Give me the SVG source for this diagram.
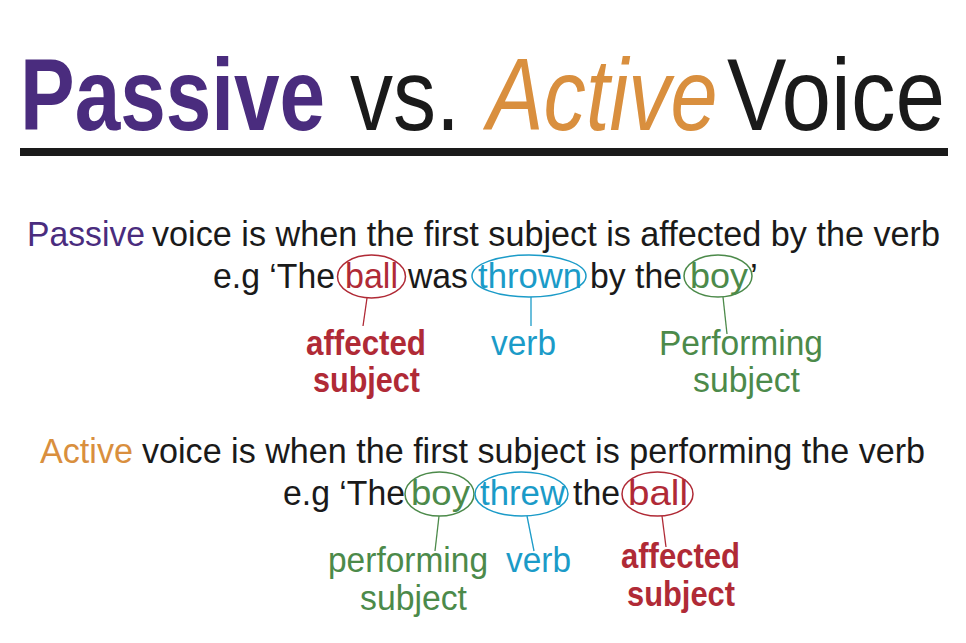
<svg xmlns="http://www.w3.org/2000/svg" width="966" height="643" viewBox="0 0 966 643">
<style>
text{font-family:"Liberation Sans",Arial,sans-serif;}
.t{font-size:102px;}
.b{font-size:35px;fill:#1a1a1a;}
.l{font-size:35px;}
.pu{fill:#4a2c7e;}
.or{fill:#d98f3e;}
.rd{fill:#b02a36;}
.bl{fill:#1b9bc8;}
.gr{fill:#4c8a4a;}
.er{fill:none;stroke:#b02a36;stroke-width:1.5;}
.eb{fill:none;stroke:#1b9bc8;stroke-width:1.5;}
.eg{fill:none;stroke:#4c8a4a;stroke-width:1.5;}
</style>
<rect width="966" height="643" fill="#fff"/>
<g id="title">
<text class="t pu" transform="translate(20,130) scale(0.803,1)" font-weight="bold" textLength="380" lengthAdjust="spacingAndGlyphs">Passive</text>
<text class="t" transform="translate(350,130) scale(0.846,1)" fill="#1a1a1a" textLength="130" lengthAdjust="spacingAndGlyphs">vs.</text>
<text class="t or" transform="translate(487,130) scale(0.83,1)" font-style="italic" textLength="278" lengthAdjust="spacingAndGlyphs">Active</text>
<text class="t" transform="translate(727,130) scale(0.855,1)" fill="#1a1a1a" textLength="255" lengthAdjust="spacingAndGlyphs">Voice</text>
<rect x="20" y="148" width="928" height="8" fill="#1a1a1a"/>
</g>
<g id="passive-def">
<text class="b pu" x="27" y="246" textLength="118" lengthAdjust="spacingAndGlyphs" style="fill:#4a2c7e">Passive</text>
<text class="b" x="152" y="246" textLength="788" lengthAdjust="spacingAndGlyphs">voice is when the first subject is affected by the verb</text>
</g>
<g id="passive-example">
<text class="b" x="213" y="288" textLength="122" lengthAdjust="spacingAndGlyphs">e.g ‘The</text>
<text class="b" x="408" y="288" textLength="60" lengthAdjust="spacingAndGlyphs">was</text>
<text class="b" x="590" y="288" textLength="92" lengthAdjust="spacingAndGlyphs">by the</text>
<text class="b" x="750" y="288">’</text>
</g>
<g id="p-ball">
<ellipse class="er" cx="371.5" cy="276.5" rx="34" ry="21.5"/>
<text class="l rd" x="345" y="288" textLength="53" lengthAdjust="spacingAndGlyphs">ball</text>
</g>
<g id="p-thrown">
<ellipse class="eb" cx="529" cy="276" rx="57" ry="21"/>
<text class="l bl" x="478" y="288" textLength="104" lengthAdjust="spacingAndGlyphs">thrown</text>
</g>
<g id="p-boy">
<ellipse class="eg" cx="718" cy="276" rx="34" ry="21"/>
<text class="l gr" x="690" y="288" textLength="58" lengthAdjust="spacingAndGlyphs">boy</text>
</g>
<g id="p-affected">
<text class="l rd" x="306" y="355" font-weight="bold" textLength="120" lengthAdjust="spacingAndGlyphs">affected</text>
<text class="l rd" x="313" y="392" font-weight="bold" textLength="107" lengthAdjust="spacingAndGlyphs">subject</text>
</g>
<g id="p-verb">
<text class="l bl" x="491" y="355" textLength="65" lengthAdjust="spacingAndGlyphs">verb</text>
</g>
<g id="p-performing">
<text class="l gr" x="659" y="355" textLength="164" lengthAdjust="spacingAndGlyphs">Performing</text>
<text class="l gr" x="693" y="392" textLength="107" lengthAdjust="spacingAndGlyphs">subject</text>
</g>
<g id="active-def">
<text class="b or" x="40" y="463" textLength="93" lengthAdjust="spacingAndGlyphs" style="fill:#d98f3e">Active</text>
<text class="b" x="142" y="463" textLength="783" lengthAdjust="spacingAndGlyphs">voice is when the first subject is performing the verb</text>
</g>
<g id="active-example">
<text class="b" x="283" y="505" textLength="122" lengthAdjust="spacingAndGlyphs">e.g ‘The</text>
<text class="b" x="573" y="505" textLength="47" lengthAdjust="spacingAndGlyphs">the</text>
</g>
<g id="a-boy">
<ellipse class="eg" cx="439.5" cy="494" rx="34.5" ry="22"/>
<text class="l gr" x="411" y="505" textLength="59" lengthAdjust="spacingAndGlyphs">boy</text>
</g>
<g id="a-threw">
<ellipse class="eb" cx="521.5" cy="494" rx="46.5" ry="22"/>
<text class="l bl" x="480" y="505" textLength="85" lengthAdjust="spacingAndGlyphs">threw</text>
</g>
<g id="a-ball">
<ellipse class="er" cx="657.5" cy="494" rx="35.5" ry="22"/>
<text class="l rd" x="628" y="505" textLength="60" lengthAdjust="spacingAndGlyphs">ball</text>
</g>
<g id="a-performing">
<text class="l gr" x="328" y="572" textLength="160" lengthAdjust="spacingAndGlyphs">performing</text>
<text class="l gr" x="360" y="610" textLength="107" lengthAdjust="spacingAndGlyphs">subject</text>
</g>
<g id="a-verb">
<text class="l bl" x="506" y="572" textLength="65" lengthAdjust="spacingAndGlyphs">verb</text>
</g>
<g id="a-affected">
<text class="l rd" x="621" y="568" font-weight="bold" textLength="119" lengthAdjust="spacingAndGlyphs">affected</text>
<text class="l rd" x="627" y="606" font-weight="bold" textLength="108" lengthAdjust="spacingAndGlyphs">subject</text>
</g>
<g id="connectors" stroke-width="1.3" fill="none">
<line x1="367" y1="298" x2="363" y2="326" stroke="#b02a36"/>
<line x1="531" y1="297" x2="531" y2="326" stroke="#1b9bc8"/>
<line x1="723" y1="297" x2="727" y2="334" stroke="#4c8a4a"/>
<line x1="439" y1="516" x2="435" y2="551" stroke="#4c8a4a"/>
<line x1="527" y1="516" x2="534" y2="551" stroke="#1b9bc8"/>
<line x1="662" y1="516" x2="666" y2="547" stroke="#b02a36"/>
</g>
</svg>
